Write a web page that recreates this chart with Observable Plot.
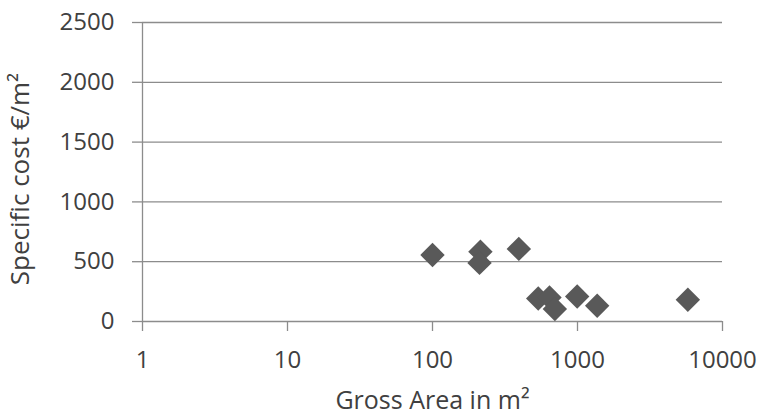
<!DOCTYPE html>
<html>
<head>
<meta charset="utf-8">
<script src="https://cdn.jsdelivr.net/npm/d3@7"></script>
<script src="https://cdn.jsdelivr.net/npm/@observablehq/plot@0.6"></script>
<style>
  html, body { margin: 0; padding: 0; background: #fff; }
  svg { display: block; }
</style>
</head>
<body>
<div id="chart"></div>
<script>
const grossArea = [100, 214, 211, 394, 536, 641, 698, 995, 1367, 5768];
const specificCost = [556, 584, 490, 607, 193, 201, 104, 209, 131, 182];
const xTicks = [1, 10, 100, 1000, 10000];
const yTicks = [0, 500, 1000, 1500, 2000, 2500];
const xLabel = "Gross Area in m²";
const yLabel = "Specific cost €/m²";

const data = grossArea.map((a, i) => ({area: a, cost: specificCost[i]}));
const gridColor = "#8c8c8c";
const textColor = "#404040";

const chart = Plot.plot({
  width: 762,
  height: 416,
  marginLeft: 142,
  marginRight: 40,
  marginTop: 22,
  marginBottom: 95,
  style: {fontFamily: "'Open Sans', sans-serif", fontSize: "24px", color: textColor, background: "#fff"},
  x: {type: "log", domain: [1, 10000]},
  y: {domain: [0, 2500]},
  marks: [
    Plot.gridY(yTicks, {stroke: gridColor, strokeOpacity: 1, strokeWidth: 1.3}),
    Plot.ruleX([1], {stroke: gridColor, strokeWidth: 1.3}),
    Plot.axisY(yTicks, {tickSize: 10, tickPadding: 18, stroke: gridColor, strokeWidth: 1.3, fill: textColor, fontSize: 24,
      tickFormat: d => String(d), label: null}),
    Plot.axisX(xTicks, {tickSize: 10, tickPadding: 19, stroke: gridColor, strokeWidth: 1.3, fill: textColor, fontSize: 24,
      tickFormat: d => String(d), label: null}),
    Plot.text([xLabel], {frameAnchor: "bottom", lineAnchor: "top", dy: 70, fontSize: 25, fill: textColor}),
    Plot.text([yLabel], {frameAnchor: "left", textAnchor: "middle", lineAnchor: "top", rotate: -90, dx: -132, dy: 7, fontSize: 26, fill: textColor}),
    Plot.dot(data, {x: "area", y: "cost", symbol: "diamond2", r: 11, fill: "#595959", stroke: "none"})
  ]
});
document.getElementById("chart").appendChild(chart);
</script>
</body>
</html>
